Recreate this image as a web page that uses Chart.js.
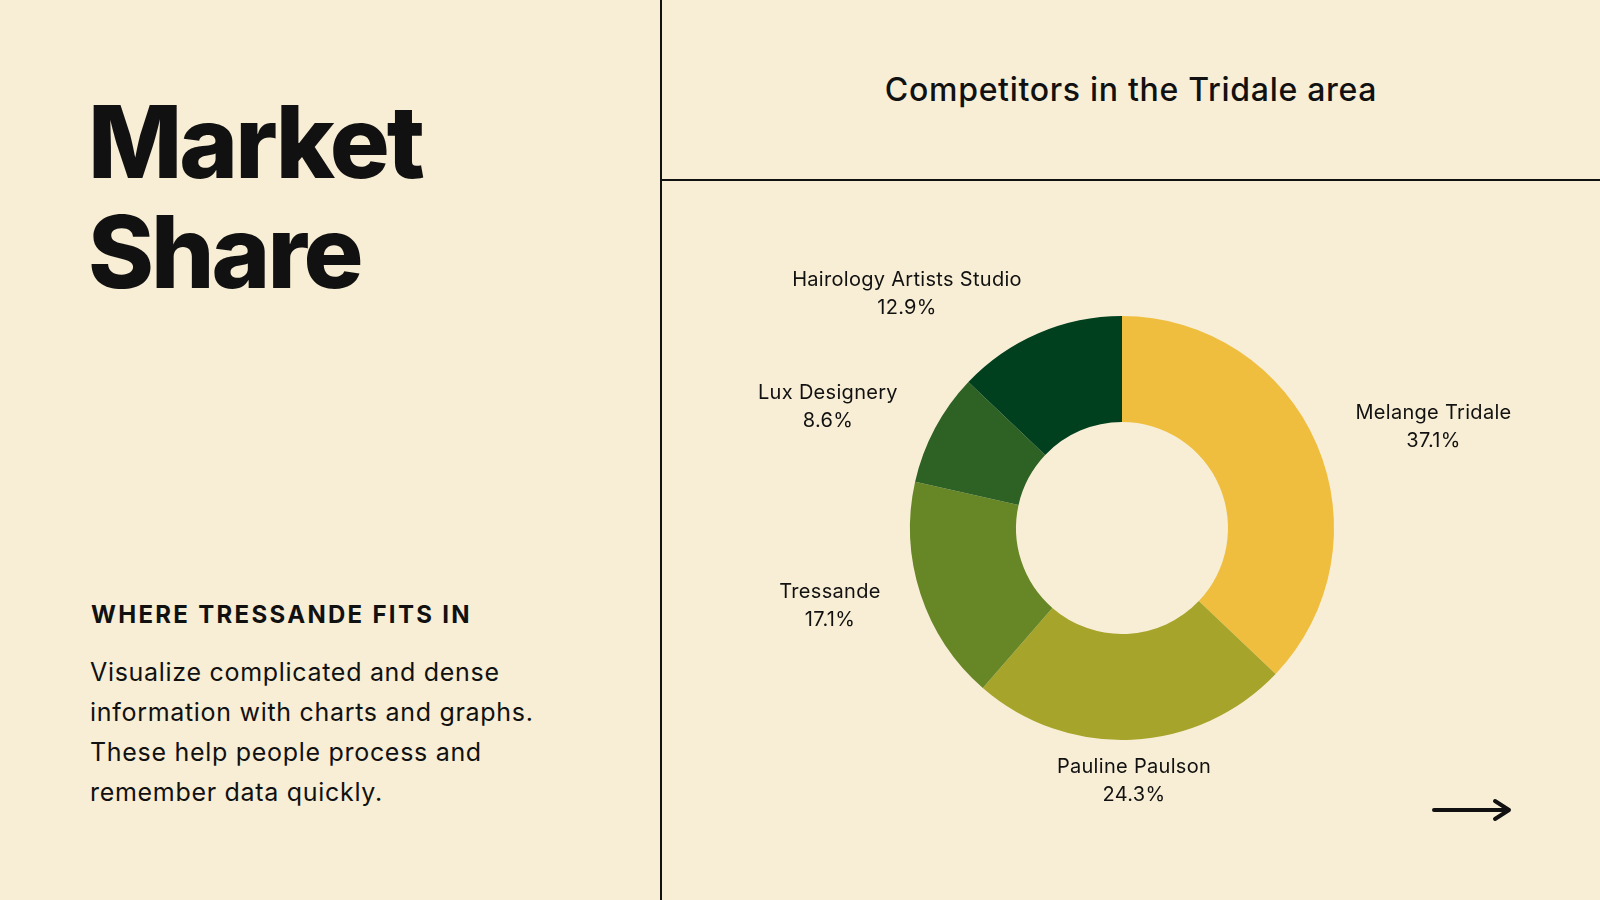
<!DOCTYPE html>
<html>
<head>
<meta charset="utf-8">
<script src="https://cdn.jsdelivr.net/npm/chart.js@4/dist/chart.umd.min.js"></script>
<style>
  html, body { margin: 0; padding: 0; }
  body {
    width: 1600px; height: 900px; overflow: hidden; position: relative;
    background: #F8EED5; color: #111; font-family: Inter, "Noto Sans", sans-serif;
  }
  .vline { position: absolute; left: 660px; top: 0; width: 2px; height: 900px; background: #111; }
  .hline { position: absolute; left: 660px; top: 179px; width: 940px; height: 2px; background: #111; }
  .big {
    position: absolute; left: 88px; top: 87px; font-size: 100px; line-height: 110px;
    font-weight: 800; letter-spacing: -3px;
  }
  .sub {
    position: absolute; left: 91px; top: 603px; font-size: 24px; line-height: 24px;
    font-weight: 700; letter-spacing: 2.3px;
  }
  .para {
    position: absolute; left: 90px; top: 652px; font-size: 25px; line-height: 40px;
    font-weight: 400; width: 500px; letter-spacing: 0.7px;
  }
  .title {
    position: absolute; left: 662px; top: 0; width: 938px; height: 178px;
    display: flex; align-items: center; justify-content: center;
    font-size: 32px; font-weight: 500; letter-spacing: 0.7px;
  }
  #wrap { position: absolute; left: 662px; top: 182px; width: 920px; height: 692px; }
  #arrow { position: absolute; left: 1430px; top: 795px; }
</style>
</head>
<body>
<div class="vline"></div>
<div class="hline"></div>
<div class="big">Market<br>Share</div>
<div class="sub">WHERE TRESSANDE FITS IN</div>
<div class="para">Visualize complicated and dense<br>information with charts and graphs.<br>These help people process and<br>remember data quickly.</div>
<div class="title">Competitors in the Tridale area</div>
<div id="wrap"><canvas id="shareChart"></canvas></div>
<svg id="arrow" width="90" height="30" viewBox="0 0 90 30">
  <path d="M4 15 H79 M65 6 L79 15 L65 24" fill="none" stroke="#111" stroke-width="4" stroke-linecap="round" stroke-linejoin="round"/>
</svg>

<script>
const competitors = ['Melange Tridale', 'Pauline Paulson', 'Tressande', 'Lux Designery', 'Hairology Artists Studio'];
const shares = [37.1, 24.3, 17.1, 8.6, 12.9];
const sliceColors = ['#EFBE3E', '#A6A42B', '#678727', '#2E6124', '#00401E'];

// labels outside each slice, like the original layout
const outsideLabels = {
    id: 'outsideLabels',
    afterDatasetsDraw(chart) {
        const ctx = chart.ctx;
        const meta = chart.getDatasetMeta(0);
        ctx.save();
        ctx.font = '400 20px Inter, "Noto Sans", sans-serif';
        ctx.letterSpacing = '0.3px';
        ctx.fillStyle = '#111';
        ctx.textAlign = 'center';
        ctx.textBaseline = 'alphabetic';
        meta.data.forEach((arc, i) => {
            const p = arc.getProps(['x', 'y', 'startAngle', 'endAngle', 'outerRadius'], true);
            const mid = (p.startAngle + p.endAngle) / 2;
            const r = p.outerRadius + 42;
            const dx = Math.cos(mid), dy = Math.sin(mid);
            const ax = p.x + dx * r;
            const ay = p.y + dy * r;
            const line1 = chart.data.labels[i];
            const line2 = chart.data.datasets[0].data[i].toFixed(1) + '%';
            const w = Math.max(ctx.measureText(line1).width, ctx.measureText(line2).width);
            let cx = ax;
            if (dx > 0.2) cx = ax + w / 2;
            else if (dx < -0.2) cx = ax - w / 2;
            ctx.fillText(line1, cx, ay - 9);
            ctx.fillText(line2, cx, ay + 19);
        });
        ctx.restore();
    }
};

document.addEventListener('DOMContentLoaded', () => {
    const ctx = document.getElementById('shareChart');
    if(!ctx) return;

    new Chart(ctx, {
        type: 'doughnut',
        data: {
            labels: competitors,
            datasets: [{
                data: shares,
                backgroundColor: sliceColors,
                borderWidth: 0,
                hoverOffset: 0
            }]
        },
        options: {
            responsive: true,
            maintainAspectRatio: false,
            animation: false,
            cutout: '50%',
            layout: { padding: 134 },
            plugins: {
                legend: { display: false },
                tooltip: { enabled: false }
            }
        },
        plugins: [outsideLabels]
    });
});
</script>
</body>
</html>
